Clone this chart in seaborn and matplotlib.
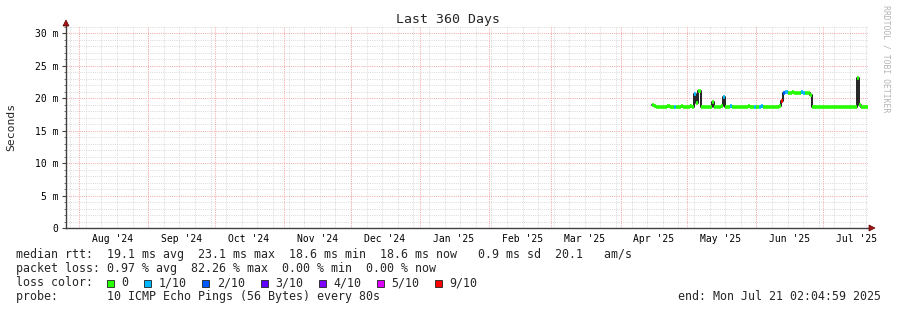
import numpy as np
import pandas as pd
import matplotlib
matplotlib.use("Agg")
import matplotlib.pyplot as plt
import matplotlib.dates as mdates
from matplotlib.patches import Polygon, Rectangle
from matplotlib.ticker import MultipleLocator, FuncFormatter
import seaborn as sns

# ---------------- data ----------------
range_start = "2024-07-26 02:04:59"
range_end = "2025-07-21 02:04:59"
data_start = "2025-04-15"

apr_median = [18.9, 18.8, 18.7, 18.7, 18.7, 18.7, 18.7, 18.8, 18.7, 18.7,
              18.7, 18.6, 18.7, 18.8, 18.7, 18.7]
may_median = [18.7, 18.8, 18.7, 20.7, 19.3, 21.1, 18.7, 18.7, 18.6, 18.7,
              18.7, 19.4, 18.7, 18.7, 18.7, 18.8, 20.2, 18.7, 18.7, 18.8,
              18.7, 18.7, 18.6, 18.7, 18.7, 18.7, 18.7, 18.8, 18.7, 18.7,
              18.7]
jun_median = [18.7, 18.7, 18.8, 18.7, 18.7, 18.7, 18.6, 18.7, 18.7, 18.7,
              18.8, 19.5, 20.8, 20.9, 20.8, 20.8, 20.9, 20.8, 20.8, 20.8,
              20.9, 20.8, 20.8, 20.8, 20.5, 18.6, 18.6, 18.6, 18.7, 18.6]
jul_median = [18.6, 18.6, 18.6, 18.7, 18.6, 18.6, 18.6, 18.6, 18.6, 18.7,
              18.6, 18.6, 18.6, 18.6, 18.6, 23.1, 19.0, 18.6, 18.6, 18.6,
              18.6]

apr_loss = [0, 0, 0, 0, 0, 0, 0, 0, 0, 0, 1, 0, 0, 0, 0, 0]
may_loss = [0, 0, 0, 1, 0, 0, 0, 0, 0, 0, 0, 0, 0, 0, 0, 0, 1, 0, 0, 1,
            0, 0, 0, 0, 0, 0, 0, 0, 0, 0, 1]
jun_loss = [0, 1, 1, 0, 0, 0, 0, 0, 0, 0, 0, 9, 2, 1, 0, 0, 0, 0, 0, 0,
            1, 1, 0, 0, 0, 0, 0, 0, 0, 0]
jul_loss = [0] * 21

loss_levels = [0, 1, 2, 3, 4, 5, 9]
loss_labels = ["0", "1/10", "2/10", "3/10", "4/10", "5/10", "9/10"]
loss_colors = ["#26ff00", "#00b8ff", "#0059ff", "#5e00ff", "#7e00ff", "#dd00ff", "#ff0000"]

title = "Last 360 Days"
ylabel = "Seconds"
stat_lines = [
    "median rtt:  19.1 ms avg  23.1 ms max  18.6 ms min  18.6 ms now   0.9 ms sd  20.1   am/s",
    "packet loss: 0.97 % avg  82.26 % max  0.00 % min  0.00 % now",
]
probe_line = "probe:       10 ICMP Echo Pings (56 Bytes) every 80s"
end_line = "end: Mon Jul 21 02:04:59 2025"
watermark = "RRDTOOL / TOBI OETIKER"

# ---------------- build frame ----------------
median = apr_median + may_median + jun_median + jul_median
loss = apr_loss + may_loss + jun_loss + jul_loss
dates = pd.date_range(data_start, periods=len(median), freq="D")
df = pd.DataFrame({"date": dates, "median": np.array(median) / 1000.0, "loss": loss})
t0 = pd.Timestamp(range_start)
t1 = pd.Timestamp(range_end)
df["end"] = (df["date"] + pd.Timedelta(days=1)).clip(upper=t1)
cmap = dict(zip(loss_levels, loss_colors))

# ---------------- style ----------------
sns.set_style("white")
mono = ["DejaVu Sans Mono"]
plt.rcParams["font.family"] = mono

W, H = 897, 310
fig = plt.figure(figsize=(W / 100, H / 100), dpi=100, facecolor="white")


def fx(x):
    return x / W


def fy(y):
    return 1 - y / H


ax_l, ax_r, ax_b, ax_t = 66, 868, 228, 26
ax = fig.add_axes([fx(ax_l), fy(ax_b), (ax_r - ax_l) / W, (ax_b - ax_t) / H])
ax.set_facecolor("white")
ax.set_xlim(t0, t1)
ymax = 0.0311
ax.set_ylim(0, ymax)

# grid
px = 0.72
for d in pd.date_range("2024-07-28", t1, freq="7D"):
    ax.axvline(d, color="#dadada", lw=px, ls=(0, (1, 1.2)), zorder=0)
for d in pd.date_range("2024-08-01", t1, freq="MS"):
    ax.axvline(d, color="#f5a8a8", lw=px, ls=(0, (1, 1.2)), zorder=1)
for v in np.arange(0.001, ymax, 0.001):
    if round(v * 1000) % 5:
        ax.axhline(v, color="#dadada", lw=px, ls=(0, (1, 1.2)), zorder=0)
for v in np.arange(0.005, ymax, 0.005):
    ax.axhline(v, color="#f2a8a8", lw=px, ls=(0, (1, 1.2)), zorder=1)

# data: connecting step line (black) + loss-coloured median segments
sns.lineplot(data=df, x="date", y="median", drawstyle="steps-post", color="#111111",
             lw=1.3, estimator=None, sort=False, ax=ax, zorder=3)
ax.hlines(df["median"], df["date"], df["end"], colors=[cmap[l] for l in df["loss"]],
          lw=2.6, zorder=4)
ax.set_xlabel("")
ax.set_ylabel("")

# axes
for s in ["top", "right"]:
    ax.spines[s].set_visible(False)
for s in ["left", "bottom"]:
    ax.spines[s].set_color("#404040")
    ax.spines[s].set_linewidth(1.0)

ax.yaxis.set_major_locator(MultipleLocator(0.005))
ax.yaxis.set_minor_locator(MultipleLocator(0.001))
ax.yaxis.set_major_formatter(FuncFormatter(lambda v, p: "0" if abs(v) < 1e-9 else f"{round(v*1000):d} m"))
ax.tick_params(axis="y", which="major", length=3, width=0.8, color="#404040", pad=2.5,
               labelsize=7.05, labelcolor="#000000", left=True)
ax.tick_params(axis="y", which="minor", length=1.6, width=0.6, color="#606060", left=True)

ax.xaxis.set_major_locator(mdates.MonthLocator(bymonthday=16))
ax.xaxis.set_major_formatter(mdates.DateFormatter("%b '%y"))
ax.tick_params(axis="x", which="major", length=0, pad=4.5, labelsize=7.05, labelcolor="#000000")
ax.tick_params(axis="x", which="minor", length=0)
for lab in ax.get_xticklabels() + ax.get_yticklabels():
    lab.set_fontfamily(mono)

# axis arrows
arrow_fc, arrow_ec = "#a01818", "#600000"
fig.add_artist(Polygon([[fx(63), fy(26)], [fx(69), fy(26)], [fx(66), fy(20)]], closed=True,
                       transform=fig.transFigure, fc=arrow_fc, ec=arrow_ec, lw=0.5))
fig.add_artist(Polygon([[fx(869), fy(225)], [fx(869), fy(231)], [fx(875), fy(228)]], closed=True,
                       transform=fig.transFigure, fc=arrow_fc, ec=arrow_ec, lw=0.5))

# texts
fig.text(fx(448), fy(19), title, ha="center", va="center", fontsize=9.5, family=mono)
fig.text(fx(11), fy(127), ylabel, rotation=90, ha="center", va="center", fontsize=8.2, family=mono)
fig.text(fx(886), fy(59), watermark, rotation=270, ha="center", va="center", fontsize=5.9,
         color="#b4b4b4", family=mono)

fs = 8.37
cw = 7.03
baselines = [258, 272, 286, 300]
for i, line in enumerate(stat_lines):
    fig.text(fx(16), fy(baselines[i]), line, ha="left", va="baseline", fontsize=fs, family=mono)
fig.text(fx(16), fy(baselines[2]), "loss color:", ha="left", va="baseline", fontsize=fs, family=mono)
bx = 107
for lab, col in zip(loss_labels, loss_colors):
    fig.add_artist(Rectangle((fx(bx), fy(287)), 7 / W, 7 / H, transform=fig.transFigure,
                             fc=col, ec="#202020", lw=0.6))
    tx = bx + 14.5
    fig.text(fx(tx), fy(baselines[2]), lab, ha="left", va="baseline", fontsize=fs, family=mono)
    bx = tx + len(lab) * cw + 15.6
fig.text(fx(16), fy(baselines[3]), probe_line, ha="left", va="baseline", fontsize=fs, family=mono)
fig.text(fx(881), fy(baselines[3]), end_line, ha="right", va="baseline", fontsize=fs, family=mono)

fig.savefig("out.png", dpi=100, facecolor="white")
